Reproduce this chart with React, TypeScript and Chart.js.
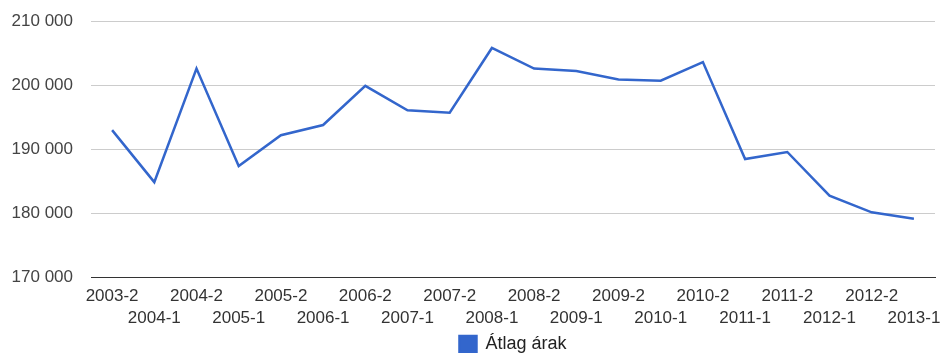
import React, { useEffect, useRef } from "react";
import { Chart, registerables } from "chart.js";

Chart.register(...registerables);

const categories = [
  "2003-2", "2004-1", "2004-2", "2005-1", "2005-2", "2006-1", "2006-2", "2007-1",
  "2007-2", "2008-1", "2008-2", "2009-1", "2009-2", "2010-1", "2010-2", "2011-1",
  "2011-2", "2012-1", "2012-2", "2013-1",
];

const atlagArak = [
  193000, 184900, 202600, 187400, 192200, 193800, 199900, 196100,
  195700, 205800, 202600, 202200, 200900, 200700, 203600, 188500,
  189600, 182800, 180200, 179200,
];

const seriesLabel = "Átlag árak";
const yMin = 170000;
const yMax = 210000;
const yStep = 10000;

const FONT = "Arial, 'Liberation Sans', sans-serif";

function fmt(v: number): string {
  return String(Math.round(v)).replace(/\B(?=(\d{3})+(?!\d))/g, " ");
}

export default function App() {
  const ref = useRef<HTMLCanvasElement | null>(null);

  useEffect(() => {
    document.body.style.margin = "0";
    const canvas = ref.current;
    if (!canvas) return;
    const chart = new Chart(canvas, {
      type: "line",
      data: {
        labels: categories,
        datasets: [
          {
            label: seriesLabel,
            data: atlagArak,
            borderColor: "#3366cc",
            backgroundColor: "#3366cc",
            borderWidth: 2.5,
            pointRadius: 0,
            pointHoverRadius: 0,
            tension: 0,
            fill: false,
          },
        ],
      },
      options: {
        responsive: false,
        animation: false,
        layout: { padding: { top: 21, left: 12, right: 8, bottom: -10 } },
        scales: {
          x: {
            offset: true,
            afterFit: (axis: any) => {
              axis.height = axis.height - 5;
              axis.paddingLeft = 0;
              axis.paddingRight = 0;
            },
            grid: { display: false, drawTicks: false },
            border: { display: true, color: "#333333", width: 1 },
            ticks: {
              autoSkip: false,
              maxRotation: 0,
              minRotation: 0,
              padding: 7,
              color: "#333333",
              font: { family: FONT, size: 17, lineHeight: 1.3 },
              callback: function (_v: any, i: number) {
                const lab = categories[i];
                return i % 2 === 0 ? lab : ["", lab];
              },
            },
          },
          y: {
            min: yMin,
            max: yMax,
            afterFit: (axis: any) => {
              axis.width = 79;
              axis.paddingTop = 0;
              axis.paddingBottom = 0;
            },
            grid: {
              drawTicks: false,
              color: (ctx: any) => (ctx.tick && ctx.tick.value === yMin ? "#333333" : "#cccccc"),
            },
            border: { display: false },
            ticks: {
              stepSize: yStep,
              padding: 18,
              color: "#444444",
              font: { family: FONT, size: 17 },
              callback: (v: any) => fmt(Number(v)),
            },
          },
        },
        plugins: {
          legend: {
            display: true,
            position: "bottom",
            fullSize: false,
            labels: {
              boxWidth: 17,
              boxHeight: 16,
              padding: 4,
              color: "#222222",
              font: { family: FONT, size: 18 },
            },
          },
          tooltip: { enabled: false },
        },
      },
    });
    return () => chart.destroy();
  }, []);

  return (
    <div style={{ position: "fixed", left: 0, top: 0, width: 943, height: 353, background: "#fff" }}>
      <canvas ref={ref} width={943} height={353} style={{ width: 943, height: 353, display: "block" }} />
    </div>
  );
}
